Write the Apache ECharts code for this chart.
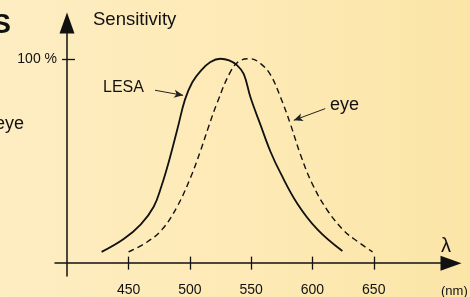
<!DOCTYPE html>
<html>
<head>
<meta charset="utf-8">
<script src="https://cdn.jsdelivr.net/npm/echarts@6/dist/echarts.min.js"></script>
<style>
  html, body { margin: 0; padding: 0; }
  #main {
    width: 470px; height: 297px;
    background: linear-gradient(90deg, #fdedc2 0%, #fdeab6 50%, #fbe5a7 100%);
  }
</style>
</head>
<body>
<div id="main"></div>
<script>
// wavelength (nm) / relative sensitivity (%)
var lesaWave = [428, 446, 460, 470.5, 477, 483, 490, 496, 502, 508.7, 516.8, 525, 532, 538.6, 544, 549.5, 557.7, 565.8, 574, 587.7, 604, 624.4];
var lesaSens = [5.5, 11.8, 19, 27.6, 38, 50, 66, 80, 88.5, 94, 98.4, 100, 99.2, 96.8, 92.5, 81, 67.5, 54.5, 44, 29.1, 16.5, 5.9];

var eyeWave = [450, 465, 477.4, 489.6, 500.5, 508.7, 515.4, 522.3, 533.2, 541.3, 549.5, 557.7, 565.8, 574, 582.2, 590.4, 600, 612, 625.7, 634, 649];
var eyeSens = [5.5, 10.3, 16.5, 27.6, 41.8, 55, 67, 78.5, 93.7, 99.2, 100, 97.6, 92.1, 81.1, 67.7, 52.8, 38.6, 26, 15.8, 11.8, 5.5];

var xTicks = [450, 500, 550, 600, 650];
var yTicks = [100];

var FONT = 'Liberation Sans, Arial, sans-serif';
var INK = '#111';

function pairs(xs, ys) {
    var out = [];
    for (var i = 0; i < xs.length; i++) out.push([xs[i], ys[i]]);
    return out;
}

var chart = echarts.init(document.getElementById('main'));

var xBase = {
    type: 'value',
    position: 'bottom',
    min: 390,
    max: 713,
    splitLine: { show: false }
};
var yBase = {
    type: 'value',
    position: 'left',
    min: -6.3,
    max: 117.5,
    offset: -12,
    splitLine: { show: false }
};

chart.setOption({
    animation: false,
    grid: { left: 55, right: 19, top: 23, bottom: 12, containLabel: false },
    xAxis: [
        Object.assign({}, xBase, {
            axisLine: {
                onZero: true,
                lineStyle: { color: INK, width: 1.5 },
                symbol: ['none', 'triangle'],
                symbolSize: [15, 21]
            },
            axisTick: { show: true, inside: false, length: 6.5, customValues: xTicks, lineStyle: { color: INK, width: 1.3 } },
            axisLabel: { customValues: xTicks, margin: 7, color: INK, fontSize: 14, fontFamily: FONT }
        }),
        Object.assign({}, xBase, {
            axisLine: { show: false, onZero: true },
            axisTick: { show: true, inside: true, length: 6.5, customValues: xTicks, lineStyle: { color: INK, width: 1.3 } },
            axisLabel: { show: false }
        })
    ],
    yAxis: [
        Object.assign({}, yBase, {
            axisLine: {
                show: true,
                onZero: false,
                lineStyle: { color: INK, width: 1.5 },
                symbol: ['none', 'triangle'],
                symbolSize: [15, 21]
            },
            axisTick: { show: true, inside: false, length: 5, customValues: yTicks, lineStyle: { color: INK, width: 1.3 } },
            axisLabel: {
                customValues: yTicks, margin: 10, color: INK, fontSize: 14, fontFamily: FONT,
                formatter: function (v) { return v + ' %'; }
            }
        }),
        Object.assign({}, yBase, {
            axisLine: { show: false, onZero: false },
            axisTick: { show: true, inside: true, length: 8, customValues: yTicks, lineStyle: { color: INK, width: 1.3 } },
            axisLabel: { show: false }
        })
    ],
    series: [
        {
            name: 'LESA',
            type: 'line',
            data: pairs(lesaWave, lesaSens),
            showSymbol: false,
            smooth: 0.4,
            lineStyle: { color: INK, width: 1.8 },
            markLine: {
                silent: true,
                symbol: ['none', 'arrow'],
                symbolSize: [6, 9],
                label: { show: false },
                lineStyle: { color: '#222', width: 1, type: 'solid' },
                data: [[{ coord: [471.6, 84.6] }, { coord: [494.5, 82.1] }]]
            }
        },
        {
            name: 'eye',
            type: 'line',
            data: pairs(eyeWave, eyeSens),
            showSymbol: false,
            smooth: 0.4,
            lineStyle: { color: INK, width: 1.4, type: [6, 4] },
            markLine: {
                silent: true,
                symbol: ['none', 'arrow'],
                symbolSize: [6, 9],
                label: { show: false },
                lineStyle: { color: '#222', width: 1, type: 'solid' },
                data: [[{ coord: [610.4, 75.6] }, { coord: [584.8, 69.9] }]]
            }
        }
    ],
    graphic: [
        { type: 'text', left: 93, top: 10, style: { text: 'Sensitivity', fill: INK, font: '18.5px ' + FONT } },
        { type: 'text', x: 103, y: 88, style: { text: 'LESA', fill: INK, font: '16px ' + FONT, verticalAlign: 'middle' } },
        { type: 'text', x: 330, y: 105.5, style: { text: 'eye', fill: INK, font: '18px ' + FONT, verticalAlign: 'middle' } },
        { type: 'text', x: 24, y: 123.7, style: { text: 'eye', fill: INK, font: '18px ' + FONT, align: 'right', verticalAlign: 'middle' } },
        { type: 'text', x: 11, y: 25, style: { text: 'S', fill: INK, font: 'bold 28px ' + FONT, align: 'right', verticalAlign: 'middle' } },
        { type: 'text', x: 446, y: 246, style: { text: 'λ', fill: INK, font: '20px ' + FONT, align: 'center', verticalAlign: 'middle' } },
        { type: 'text', x: 441, y: 291, style: { text: '(nm)', fill: INK, font: '13px ' + FONT, verticalAlign: 'middle' } }
    ]
});
</script>
</body>
</html>
